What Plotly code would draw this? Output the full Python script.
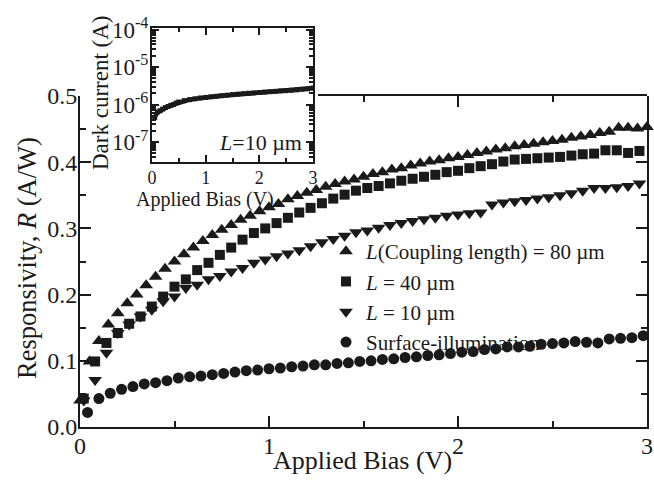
import plotly.graph_objects as go

# ---------------- data ----------------
bias_80 = [0.00,0.05,0.10,0.15,0.20,0.25,0.30,0.35,0.40,0.45,0.50,0.55,0.60,0.65,0.70,0.75,0.80,0.85,0.90,0.95,
           1.00,1.05,1.10,1.15,1.20,1.25,1.30,1.35,1.40,1.45,1.50,1.55,1.60,1.65,1.70,1.75,1.80,1.85,1.90,1.95,
           2.00,2.05,2.10,2.15,2.20,2.25,2.30,2.35,2.40,2.45,2.50,2.55,2.60,2.65,2.70,2.75,2.80,2.85,2.90,2.95,3.00]
resp_80 = [0.040,0.099,0.130,0.155,0.172,0.187,0.200,0.214,0.227,0.239,0.250,0.261,0.271,0.281,0.290,0.298,0.305,0.313,0.319,0.326,
           0.332,0.337,0.344,0.349,0.354,0.358,0.363,0.367,0.371,0.374,0.378,0.382,0.385,0.389,0.391,0.395,0.398,0.401,0.403,0.406,
           0.408,0.411,0.414,0.416,0.419,0.421,0.424,0.426,0.428,0.430,0.432,0.434,0.437,0.439,0.441,0.444,0.446,0.452,0.452,0.451,0.453]

bias_40_10 = [0.02,0.08,0.14,0.20,0.26,0.32,0.38,0.44,0.50,0.56,0.62,0.68,0.74,0.80,0.86,0.92,0.98,1.04,1.10,1.16,
              1.22,1.28,1.34,1.40,1.46,1.52,1.58,1.64,1.70,1.76,1.82,1.88,1.94,2.00,2.06,2.12,2.18,2.24,2.30,2.36,
              2.42,2.48,2.54,2.60,2.66,2.72,2.78,2.84,2.90,2.96]
resp_40 = [0.043,0.099,0.127,0.142,0.156,0.167,0.182,0.197,0.212,0.223,
           0.237,0.248,0.260,0.271,0.283,0.293,0.300,0.308,0.316,0.324,
           0.331,0.338,0.345,0.351,0.357,0.361,0.364,0.368,0.372,0.375,
           0.378,0.381,0.385,0.387,0.391,0.394,0.397,0.401,0.404,0.405,
           0.406,0.407,0.408,0.410,0.412,0.413,0.418,0.418,0.414,0.417]
resp_10 = [0.040,0.071,0.112,0.142,0.155,0.167,0.177,0.190,0.197,0.210,
           0.215,0.223,0.228,0.235,0.240,0.248,0.253,0.258,0.262,0.267,
           0.273,0.279,0.284,0.289,0.294,0.297,0.301,0.305,0.308,0.311,
           0.314,0.316,0.319,0.321,0.323,0.324,0.336,0.339,0.341,0.343,
           0.345,0.347,0.350,0.353,0.357,0.361,0.361,0.362,0.364,0.368]

bias_surf = [0.04,0.10,0.16,0.22,0.28,0.34,0.40,0.46,0.52,0.58,0.64,0.70,0.76,0.82,0.88,0.94,1.00,1.06,1.12,1.18,
             1.24,1.30,1.36,1.42,1.48,1.54,1.60,1.66,1.72,1.78,1.84,1.90,1.96,2.02,2.08,2.14,2.20,2.26,2.32,2.38,
             2.44,2.50,2.56,2.62,2.68,2.74,2.80,2.86,2.92,2.98]
resp_surf = [0.022,0.043,0.051,0.057,0.061,0.065,0.067,0.070,0.074,0.076,
             0.077,0.079,0.081,0.083,0.085,0.086,0.088,0.089,0.091,0.092,
             0.094,0.094,0.096,0.097,0.099,0.100,0.102,0.103,0.105,0.106,
             0.108,0.109,0.111,0.113,0.114,0.117,0.118,0.121,0.121,0.122,
             0.125,0.126,0.127,0.129,0.128,0.127,0.133,0.134,0.135,0.138]

bias_dark = [0.05,0.10,0.15,0.20,0.25,0.30,0.35,0.40,0.45,0.50,0.60,0.70,0.80,0.90,1.00,1.10,1.20,1.30,
             1.40,1.50,1.60,1.70,1.80,1.90,2.00,2.10,2.20,2.30,2.40,2.50,2.60,2.70,2.80,2.90,3.00]
dark_current = [4.5e-7,6.3e-7,6.8e-7,7.6e-7,8.3e-7,8.9e-7,9.5e-7,1.00e-6,1.10e-6,1.17e-6,1.27e-6,1.35e-6,
                1.42e-6,1.50e-6,1.55e-6,1.61e-6,1.66e-6,1.72e-6,1.78e-6,1.84e-6,1.90e-6,1.95e-6,2.00e-6,
                2.05e-6,2.10e-6,2.15e-6,2.20e-6,2.25e-6,2.30e-6,2.35e-6,2.40e-6,2.47e-6,2.55e-6,2.62e-6,2.75e-6]

legend_names = ["<i>L</i>(Coupling length) = 80 µm", "<i>L</i> = 40 µm", "<i>L</i> = 10 µm", "Surface-illumination"]
main_yticks = [0.0, 0.1, 0.2, 0.3, 0.4, 0.5]
inset_yticks = [1e-7, 1e-6, 1e-5, 1e-4]
inset_yticktext = ["10<sup>-7</sup>", "10<sup>-6</sup>", "10<sup>-5</sup>", "10<sup>-4</sup>"]

# ---------------- figure ----------------
W, H = 654, 481
FONT = "Liberation Serif, Times New Roman, serif"
INK = "#1a1a1a"

def px(x):
    return x / W

def py(y):
    return 1 - y / H

fig = go.Figure()
mk = dict(color=INK, line=dict(width=0))
fig.add_trace(go.Scatter(x=bias_80, y=resp_80, mode="markers", name=legend_names[0],
                         marker=dict(symbol="triangle-up", size=12, **mk), cliponaxis=False))
fig.add_trace(go.Scatter(x=bias_40_10, y=resp_40, mode="markers", name=legend_names[1],
                         marker=dict(symbol="square", size=10, **mk), cliponaxis=False))
fig.add_trace(go.Scatter(x=bias_40_10, y=resp_10, mode="markers", name=legend_names[2],
                         marker=dict(symbol="triangle-down", size=12, **mk), cliponaxis=False))
fig.add_trace(go.Scatter(x=bias_surf, y=resp_surf, mode="markers", name=legend_names[3],
                         marker=dict(symbol="circle", size=11, **mk), cliponaxis=False))
# inset
fig.add_trace(go.Scatter(x=bias_dark, y=dark_current, mode="lines+markers", xaxis="x2", yaxis="y2",
                         showlegend=False, line=dict(color=INK, width=4.5),
                         marker=dict(symbol="square", size=5, color=INK)))
# partial top frame axis for the main plot (hidden under inset on the left)
fig.add_trace(go.Scatter(x=[], y=[], xaxis="x3", yaxis="y", showlegend=False))

axis_common = dict(showgrid=False, zeroline=False, linecolor=INK, linewidth=2, automargin=False,
                   ticks="inside", tickcolor=INK, tickwidth=2,
                   tickfont=dict(family=FONT, size=24, color=INK))

main_x0, main_x1 = 80, 647
main_y0, main_y1 = 96, 427

fig.update_layout(
    width=W, height=H, margin=dict(l=0, r=0, t=0, b=0, autoexpand=False),
    paper_bgcolor="white", plot_bgcolor="rgba(0,0,0,0)",
    font=dict(family=FONT, color=INK),
    xaxis=dict(domain=[px(main_x0), px(main_x1)], range=[0, 3], dtick=1, tick0=0,
               ticklen=11, mirror=False, anchor="y", ticklabelstandoff=-4,
               minor=dict(ticks="inside", dtick=0.5, ticklen=6, tickcolor=INK, tickwidth=2),
               **axis_common),
    yaxis=dict(domain=[py(main_y1), py(main_y0)], range=[0, 0.5], tickvals=main_yticks,
               tickformat=".1f", ticklen=11, mirror="ticks", anchor="x", ticklabelstandoff=-4,
               minor=dict(ticks="inside", dtick=0.05, tick0=0, ticklen=6, tickcolor=INK, tickwidth=2),
               **axis_common),
    xaxis3=dict(domain=[px(318), px(main_x1)], range=[(318 - main_x0) / (main_x1 - main_x0) * 3, 3],
                dtick=1, tick0=0, ticklen=11, side="top", anchor="y", showticklabels=False,
                minor=dict(ticks="inside", dtick=0.5, ticklen=6, tickcolor=INK, tickwidth=2),
                **axis_common),
    xaxis2=dict(domain=[px(152), px(313)], range=[0, 3], dtick=1, tick0=0, anchor="y2",
                ticklen=7, mirror="ticks", automargin=False, ticklabelstandoff=-2,
                minor=dict(ticks="inside", dtick=0.5, ticklen=4, tickcolor=INK, tickwidth=2),
                showgrid=False, zeroline=False, linecolor=INK, linewidth=2,
                ticks="inside", tickcolor=INK, tickwidth=2,
                tickfont=dict(family=FONT, size=18, color=INK)),
    yaxis2=dict(domain=[py(162), py(28)], type="log", range=[-7.53, -3.96], anchor="x2",
                tickvals=inset_yticks, ticktext=inset_yticktext, ticklen=7, mirror="ticks",
                automargin=False, ticklabelstandoff=-3,
                minor=dict(ticks="inside", dtick="D1", ticklen=4, tickcolor=INK, tickwidth=1.5),
                showgrid=False, zeroline=False, linecolor=INK, linewidth=2,
                ticks="inside", tickcolor=INK, tickwidth=2,
                tickfont=dict(family=FONT, size=23, color=INK)),
    legend=dict(x=px(326), y=py(231), xanchor="left", yanchor="top",
                bgcolor="rgba(0,0,0,0)", borderwidth=0,
                font=dict(family=FONT, size=21, color=INK), tracegroupgap=0),
    showlegend=True,
)

fig.add_annotation(text="Applied Bias (V)", x=px(362), y=py(460), xanchor="center", yanchor="middle",
                   font=dict(family=FONT, size=26, color=INK), showarrow=False, xref="paper", yref="paper")
fig.add_annotation(text="Responsivity, <i>R</i> (A/W)", x=px(27), y=py(258), textangle=-90,
                   xanchor="center", yanchor="middle",
                   font=dict(family=FONT, size=26.5, color=INK), showarrow=False, xref="paper", yref="paper")
fig.add_annotation(text="Dark current (A)", x=px(101), y=py(93), textangle=-90,
                   xanchor="center", yanchor="middle",
                   font=dict(family=FONT, size=23, color=INK), showarrow=False, xref="paper", yref="paper")
fig.add_annotation(text="Applied Bias (V)", x=px(205), y=py(199), xanchor="center", yanchor="middle",
                   font=dict(family=FONT, size=20, color=INK), showarrow=False, xref="paper", yref="paper")
fig.add_annotation(text="<i>L</i>=10 µm", x=px(260), y=py(142), xanchor="center", yanchor="middle",
                   font=dict(family=FONT, size=22, color=INK), showarrow=False, xref="paper", yref="paper")

# remove the default page margin so the figure sits at the window's top-left corner
fig.write_html("out.html", config={"displayModeBar": False},
               post_script="document.body.style.margin='0';document.body.style.overflow='hidden';")
